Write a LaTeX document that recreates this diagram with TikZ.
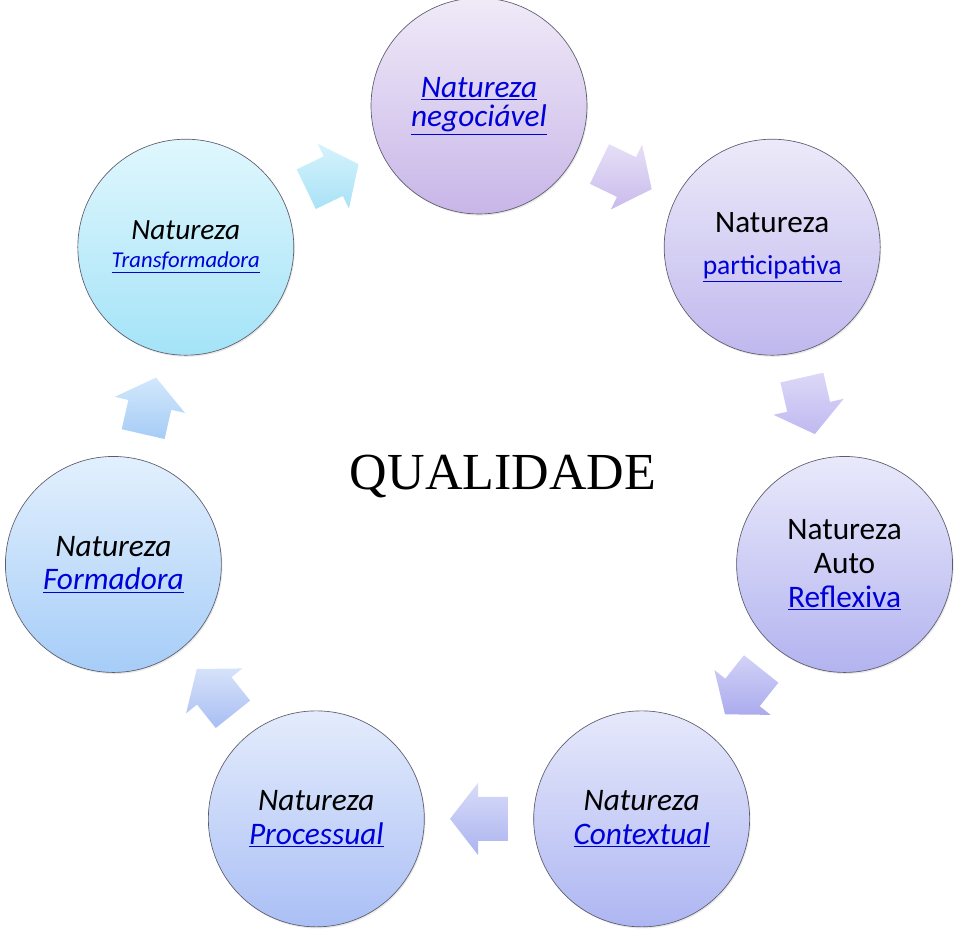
\documentclass[tikz,border=0pt]{standalone}
\usepackage{fontspec}
\setmainfont{Carlito}
\newfontfamily\serifqual{Liberation Serif}
\usetikzlibrary{calc,shadows}
\definecolor{linkblue}{HTML}{0000D8}
\definecolor{rim}{HTML}{5C5C6C}
% circle fills, top and bottom
\definecolor{negA}{HTML}{F0EAF8}\definecolor{negB}{HTML}{C8B6E8}
\definecolor{parA}{HTML}{ECEAF9}\definecolor{parB}{HTML}{C0B8EE}
\definecolor{refA}{HTML}{E9E9FB}\definecolor{refB}{HTML}{B3B3F0}
\definecolor{conA}{HTML}{E6E9FB}\definecolor{conB}{HTML}{AEB6F2}
\definecolor{proA}{HTML}{E4ECFC}\definecolor{proB}{HTML}{AABFF5}
\definecolor{forA}{HTML}{E2F0FD}\definecolor{forB}{HTML}{A6CDF8}
\definecolor{trfA}{HTML}{E0F7FD}\definecolor{trfB}{HTML}{A4E3F8}
% arrow fills, top and bottom
\definecolor{arrA1}{HTML}{D6F3FC}\definecolor{arrB1}{HTML}{A8E2F6}
\definecolor{arrA2}{HTML}{E6DFF6}\definecolor{arrB2}{HTML}{C9BBEC}
\definecolor{arrA3}{HTML}{DCD8F7}\definecolor{arrB3}{HTML}{BFB9F0}
\definecolor{arrA4}{HTML}{D2D2F7}\definecolor{arrB4}{HTML}{ABABEE}
\definecolor{arrA5}{HTML}{D8DCF8}\definecolor{arrB5}{HTML}{ABB4F0}
\definecolor{arrA6}{HTML}{D6E2FA}\definecolor{arrB6}{HTML}{A8BEF3}
\definecolor{arrA7}{HTML}{D2E8FC}\definecolor{arrB7}{HTML}{A6CCF6}
\newcommand{\lnk}[1]{\textcolor{linkblue}{\underline{#1}}}

\tikzset{
  bubble/.style={circle, draw=rim, line width=0.5pt, minimum size=162pt,
    inner sep=0pt, align=center,
    drop shadow={opacity=0.18, shadow xshift=0.8pt, shadow yshift=-1.2pt}},
}

\begin{document}
\begin{tikzpicture}[x=0.75pt, y=0.75pt, font=\fontsize{20}{25}\selectfont]
  \useasboundingbox (-479,-453) rectangle (481,481);

  % seven circles on a ring of radius 375
  \node[bubble, top color=negA, bottom color=negB, font=\itshape\fontsize{23.5}{22}\selectfont]
    (neg) at (90:375) {\lnk{Natureza}\\\lnk{negociável}};
  \node[bubble, top color=parA, bottom color=parB, font=\fontsize{23.4}{32}\selectfont]
    (par) at (38.57:375) {Natureza\\{\fontsize{20.7}{32}\selectfont\lnk{participativa}}};
  \node[bubble, top color=refA, bottom color=refB, font=\fontsize{23.5}{25.5}\selectfont]
    (ref) at (-12.86:375) {Natureza\\Auto\\\lnk{Reflexiva}};
  \node[bubble, top color=conA, bottom color=conB, font=\itshape\fontsize{23.5}{25}\selectfont]
    (con) at (-64.29:375) {Natureza\\\lnk{Contextual}};
  \node[bubble, top color=proA, bottom color=proB, font=\itshape\fontsize{23.5}{25}\selectfont]
    (pro) at (-115.71:375) {Natureza\\\lnk{Processual}};
  \node[bubble, top color=forA, bottom color=forB, font=\itshape\fontsize{23.5}{25}\selectfont]
    (for) at (-167.14:375) {Natureza\\\lnk{Formadora}};
  \node[bubble, top color=trfA, bottom color=trfB, font=\itshape\fontsize{22}{21}\selectfont]
    (trf) at (141.43:375) {Natureza\\{\fontsize{17}{16}\selectfont\lnk{Transformadora}}};

  % block arrows between neighbours, clockwise
  \foreach \s/\t/\r/\i in {trf/neg/25.71/1, neg/par/-25.71/2, par/ref/-77.14/3,
                           ref/con/-128.57/4, con/pro/-180/5, pro/for/-231.43/6,
                           for/trf/-282.86/7} {
    \begin{scope}[shift={($(\s)!0.5!(\t)$)}, rotate=\r]
      \shade[top color=arrA\i, bottom color=arrB\i]
        (-29,-22) -- (1,-22) -- (1,-36) -- (29,0) -- (1,36) -- (1,22) -- (-29,22) -- cycle;
    \end{scope}
  }

  \node[font=\serifqual\fontsize{39}{45}\selectfont] (qual) at (24,4) {QUALIDADE};
\end{tikzpicture}
\end{document}
